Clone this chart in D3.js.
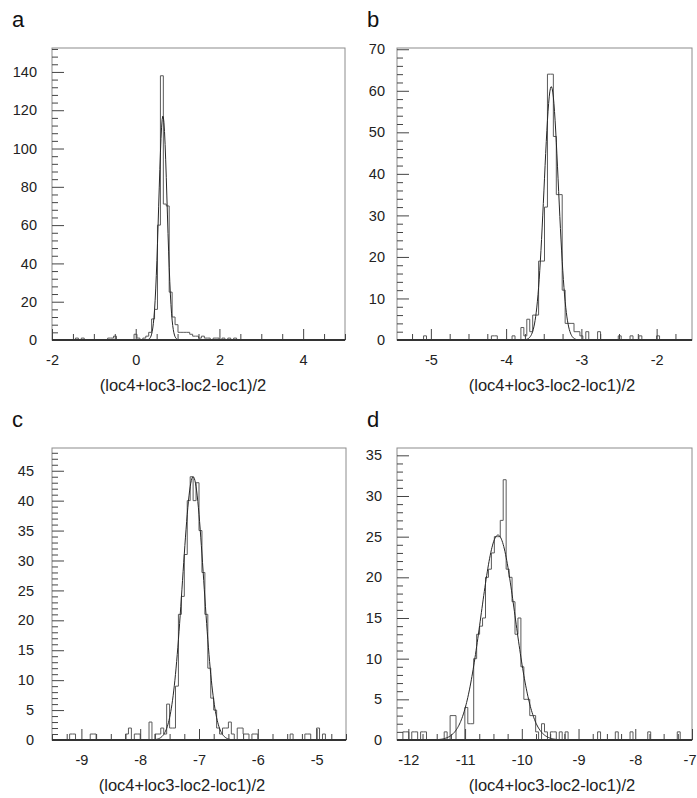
<!DOCTYPE html>
<html><head><meta charset="utf-8">
<script src="https://cdn.jsdelivr.net/npm/d3@7"></script>
<style>
html,body{margin:0;padding:0;background:#fff;}
svg{display:block;font-family:"Liberation Sans",Arial,Helvetica,sans-serif;}
</style></head>
<body>
<svg id="chart" width="697" height="798"></svg>
<script>
// Entries per bin, 100 equal-width bins in each histogram
const countsA = [
  0,0,0,0,0,0,0,0,1,0,
  1,0,0,0,0,0,0,0,0,1,
  1,2,0,0,0,0,0,0,3,1,
  0,1,2,4,11,16,60,138,71,70,
  25,12,8,4,4,4,4,3,2,2,
  1,2,1,1,0,1,1,0,1,0,
  1,0,1,0,0,0,0,0,0,0,
  0,0,0,0,0,0,0,0,0,0,
  0,0,0,0,0,0,0,0,0,0,
  0,0,0,0,0,0,0,0,0,0
];
const countsB = [
  0,0,0,0,0,0,0,0,0,1,
  0,0,0,0,0,0,0,0,0,0,
  0,0,0,0,0,0,0,0,0,0,
  0,0,1,1,0,0,0,0,0,1,
  0,0,3,1,5,2,6,6,19,19,
  32,64,64,49,35,35,12,4,4,4,
  2,2,1,0,2,0,0,0,2,0,
  0,0,0,0,0,1,0,0,0,1,
  0,0,1,0,0,0,0,0,1,0,
  0,0,0,0,0,0,0,0,0,0
];
const countsC = [
  0,0,0,0,0,0,1,1,0,0,
  0,0,0,1,1,0,0,0,0,0,
  0,0,0,0,0,1,2,0,1,1,
  0,0,0,3,0,1,1,2,1,6,
  2,2,9,21,24,31,40,44,40,43,
  35,28,21,12,7,5,2,1,2,2,
  3,1,0,2,2,1,1,0,1,1,
  0,0,0,0,0,0,0,0,0,0,
  0,1,0,0,0,0,1,1,0,0,
  2,0,1,0,0,0,0,0,0,0
];
const countsD = [
  0,0,1,1,0,1,1,0,1,1,
  0,0,0,0,0,0,1,0,3,3,
  0,0,0,4,2,2,10,13,14,15,
  20,21,23,25,25,27,32,21,20,17,
  13,15,9,5,5,3,3,1,0,2,
  1,0,1,1,0,1,0,1,0,0,
  0,0,0,0,0,0,0,0,1,0,
  0,0,0,0,1,0,0,0,0,1,
  0,0,0,0,0,1,0,0,0,0,
  0,0,0,0,0,1,0,0,0,0
];

// Histogram x ranges and y-axis maxima
const rangeA = [-2, 5];
const rangeB = [-5.45, -1.53];
const rangeC = [-9.5, -4.5];
const rangeD = [-12.2, -7.0];
const yMaxes = [152.5, 70.3, 48.8, 35.9];

// Gaussian fit parameters (constant, mean, sigma) for a, b, c, d
const fitConstant = [117, 61, 44, 25.2];
const fitMean = [0.65, -3.40, -7.10, -10.42];
const fitSigma = [0.10, 0.095, 0.18, 0.30];

// Axis tick values
const xMajorA = [-2, 0, 2, 4];
const xMajorB = [-5, -4, -3, -2];
const xMajorC = [-9, -8, -7, -6, -5];
const xMajorD = [-12, -11, -10, -9, -8, -7];
const yMajorA = [0, 20, 40, 60, 80, 100, 120, 140];
const yMajorB = [0, 10, 20, 30, 40, 50, 60, 70];
const yMajorC = [0, 5, 10, 15, 20, 25, 30, 35, 40, 45];
const yMajorD = [0, 5, 10, 15, 20, 25, 30, 35];
const xMinorSteps = [0.5, 0.25, 0.25, 0.25];
const yMinorSteps = [4, 2, 1, 1];

const panelLetters = ["a", "b", "c", "d"];
const axisTitle = "(loc4+loc3-loc2-loc1)/2";

// Page layout: frame [left, right, top, bottom], letter anchor, title anchor
const layout = [
  {frame: [52, 345, 48, 340], letter: [12, 27], yPad: 15, title: [183, 391]},
  {frame: [397, 692, 48, 340], letter: [367, 27], yPad: 12, title: [552, 391]},
  {frame: [52, 346, 448, 740], letter: [12, 427], yPad: 18, title: [182, 791]},
  {frame: [397, 692, 448, 740], letter: [367, 427], yPad: 15, title: [552, 791]}
];

const panels = [
  {counts: countsA, range: rangeA, xMajor: xMajorA, yMajor: yMajorA},
  {counts: countsB, range: rangeB, xMajor: xMajorB, yMajor: yMajorB},
  {counts: countsC, range: rangeC, xMajor: xMajorC, yMajor: yMajorC},
  {counts: countsD, range: rangeD, xMajor: xMajorD, yMajor: yMajorD}
];

const svg = d3.select("#chart");
const pageWidth = 697;
const labelColor = "#222";
const fmt = d => String(d);

function stepsWithin(lo, hi, step, skip) {
  const out = [];
  const start = Math.ceil(lo / step - 1e-9) * step;
  for (let v = start; v <= hi + 1e-9; v += step) {
    const r = Math.round(v * 1000) / 1000;
    if (!skip.some(s => Math.abs(s - r) < 1e-6)) out.push(r);
  }
  return out;
}

function styleAxis(sel, fontSize) {
  sel.select(".domain").remove();
  sel.selectAll(".tick line").attr("stroke", "#444").attr("stroke-width", 1);
  sel.selectAll(".tick text")
    .attr("fill", labelColor)
    .attr("font-size", fontSize)
    .attr("font-family", "'Liberation Sans', Arial, sans-serif");
  sel.attr("font-family", null).attr("font-size", null);
}

panels.forEach((p, i) => {
  const L = layout[i];
  const [fx0, fx1, fy0, fy1] = L.frame;
  const x = d3.scaleLinear().domain(p.range).range([fx0, fx1]);
  const y = d3.scaleLinear().domain([0, yMaxes[i]]).range([fy1, fy0]);
  const g = svg.append("g").attr("class", "panel-" + panelLetters[i]);

  // frame
  g.append("rect")
    .attr("x", fx0).attr("y", fy0)
    .attr("width", fx1 - fx0).attr("height", fy1 - fy0)
    .attr("fill", "#fff").attr("stroke", "#8c8c8c").attr("stroke-width", 1);

  // histogram outline
  const n = p.counts.length;
  const w = (p.range[1] - p.range[0]) / n;
  const pts = [[p.range[0], 0]];
  p.counts.forEach((c, k) => pts.push([p.range[0] + k * w, c]));
  pts.push([p.range[1], p.counts[n - 1]]);
  pts.push([p.range[1], 0]);
  const stepLine = d3.line().x(d => x(d[0])).y(d => y(d[1])).curve(d3.curveStepAfter);
  g.append("path").attr("d", stepLine(pts))
    .attr("fill", "none").attr("stroke", "#5a5a5a").attr("stroke-width", 1);

  // Gaussian fit
  const gauss = v => fitConstant[i] * Math.exp(-0.5 * Math.pow((v - fitMean[i]) / fitSigma[i], 2));
  const xs = d3.range(0, 501).map(j => p.range[0] + (p.range[1] - p.range[0]) * j / 500);
  const fitLine = d3.line().x(v => x(v)).y(v => y(gauss(v)));
  g.append("path").attr("d", fitLine(xs))
    .attr("fill", "none").attr("stroke", "#262626").attr("stroke-width", 1);

  // x axis: minor then major ticks drawn inward
  const xMinor = stepsWithin(p.range[0], p.range[1], xMinorSteps[i], p.xMajor);
  g.append("g").attr("transform", `translate(0,${fy1})`)
    .call(d3.axisBottom(x).tickValues(xMinor).tickSize(-6).tickFormat(""))
    .call(s => styleAxis(s, 14.5));
  const xg = g.append("g").attr("transform", `translate(0,${fy1})`)
    .call(d3.axisBottom(x).tickValues(p.xMajor).tickSize(-11).tickPadding(15).tickFormat(fmt))
    .call(s => styleAxis(s, 14.5));
  // keep a label that sits on the page edge fully inside the page
  xg.selectAll(".tick text").each(function(d) {
    const t = d3.select(this);
    const bb = this.getBBox();
    const right = x(d) + bb.width / 2;
    if (right > pageWidth - 1) t.attr("dx", (pageWidth - 1 - right) + "px");
  });

  // y axis
  const yMinor = stepsWithin(0, yMaxes[i], yMinorSteps[i], p.yMajor);
  g.append("g").attr("transform", `translate(${fx0},0)`)
    .call(d3.axisLeft(y).tickValues(yMinor).tickSize(-6).tickFormat(""))
    .call(s => styleAxis(s, 14.5));
  g.append("g").attr("transform", `translate(${fx0},0)`)
    .call(d3.axisLeft(y).tickValues(p.yMajor).tickSize(-12).tickPadding(L.yPad).tickFormat(fmt))
    .call(s => styleAxis(s, 14.5));

  // darker baseline of the x axis
  g.append("line")
    .attr("x1", fx0).attr("x2", fx1).attr("y1", fy1).attr("y2", fy1)
    .attr("stroke", "#333").attr("stroke-width", 1.8);

  // axis title
  g.append("text")
    .attr("x", L.title[0]).attr("y", L.title[1])
    .attr("text-anchor", "middle")
    .attr("font-size", 16.5).attr("fill", labelColor)
    .text(axisTitle);

  // panel letter
  g.append("text")
    .attr("x", L.letter[0]).attr("y", L.letter[1])
    .attr("font-size", 22).attr("fill", "#111")
    .text(panelLetters[i]);
});
</script>
</body></html>
